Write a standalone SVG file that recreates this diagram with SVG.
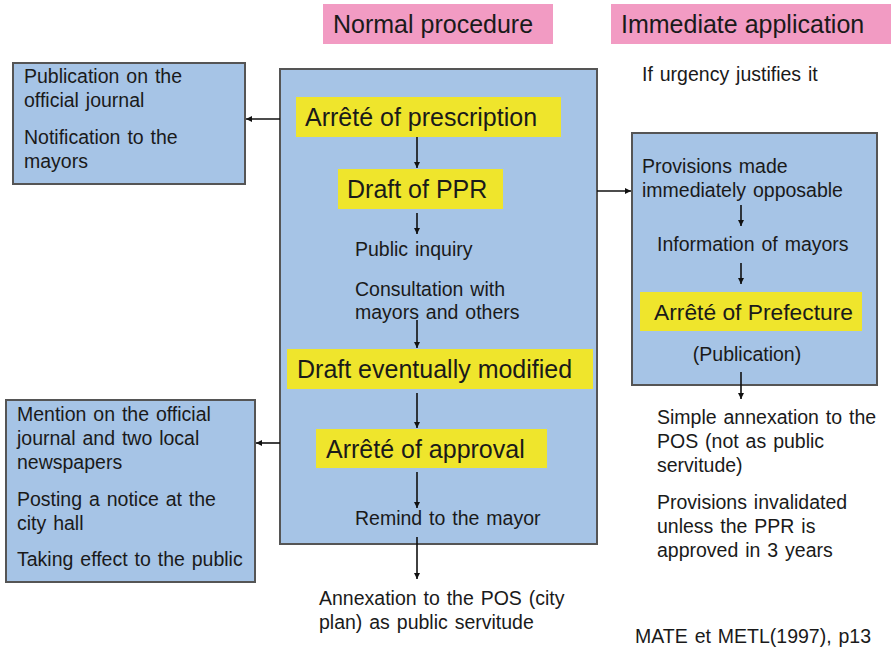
<svg xmlns="http://www.w3.org/2000/svg" width="891" height="647" viewBox="0 0 891 647">
<style>
text{font-family:"Liberation Sans",Arial,sans-serif;fill:#1a1a1a}
.b{font-size:19.5px;word-spacing:1.5px}
.y{font-size:25px}
.y2{font-size:22.8px}
.t{font-size:25px}
.box{fill:#a6c4e6;stroke:#555;stroke-width:2}
.yl{fill:#efe52c}
.pk{fill:#f29bc3}
.c{stroke:#111;stroke-width:1.6;fill:none;marker-end:url(#ah)}
</style>
<defs>
<marker id="ah" viewBox="0 0 10 10" refX="10" refY="5" markerWidth="6" markerHeight="6" orient="auto" markerUnits="userSpaceOnUse">
<path d="M0,0 L10,5 L0,10 Z" fill="#111"/>
</marker>
</defs>
<rect width="891" height="647" fill="#fff"/>
<g id="title-normal"><rect class="pk" x="323" y="4" width="230" height="40"/><text class="t" x="333" y="33">Normal procedure</text></g>
<g id="title-immediate"><rect class="pk" x="611" y="4" width="280" height="40"/><text class="t" x="621" y="33">Immediate application</text></g>
<g id="left-top"><rect class="box" x="13" y="63" width="232" height="121"/>
<text class="b" x="24" y="83">Publication on the</text><text class="b" x="24" y="107">official journal</text>
<text class="b" x="24" y="144">Notification to the</text><text class="b" x="24" y="168">mayors</text></g>
<g id="main"><rect class="box" x="280" y="69" width="317" height="475"/></g>
<g id="arrete-prescription"><rect class="yl" x="296" y="97" width="265" height="40"/><text class="y" x="305" y="126">Arrêté of prescription</text></g>
<g id="draft-ppr"><rect class="yl" x="338" y="169" width="165" height="40"/><text class="y" x="347" y="198">Draft of PPR</text></g>
<g id="inquiry"><text class="b" x="355" y="256">Public inquiry</text><text class="b" x="355" y="296">Consultation with</text><text class="b" x="355" y="319">mayors and others</text></g>
<g id="draft-modified"><rect class="yl" x="287" y="349" width="306" height="40"/><text class="y" x="297" y="378">Draft eventually modified</text></g>
<g id="arrete-approval"><rect class="yl" x="316" y="429" width="231" height="39"/><text class="y" x="326" y="458">Arrêté of approval</text></g>
<g id="remind"><text class="b" x="355" y="525">Remind to the mayor</text></g>
<g id="annexation"><text class="b" x="319" y="605">Annexation to the POS (city</text><text class="b" x="319" y="629">plan) as public servitude</text></g>
<g id="left-bottom"><rect class="box" x="6" y="400" width="249" height="182"/>
<text class="b" x="17" y="421">Mention on the official</text><text class="b" x="17" y="445">journal and two local</text><text class="b" x="17" y="469">newspapers</text>
<text class="b" x="17" y="506">Posting a notice at the</text><text class="b" x="17" y="530">city hall</text>
<text class="b" x="17" y="566">Taking effect to the public</text></g>
<g id="urgency"><text class="b" x="642" y="81">If urgency justifies it</text></g>
<g id="right"><rect class="box" x="632" y="133" width="245" height="252"/>
<text class="b" x="642" y="173">Provisions made</text><text class="b" x="642" y="197">immediately opposable</text>
<text class="b" x="657" y="251">Information of mayors</text>
<rect class="yl" x="640" y="292" width="222" height="39"/><text class="y2" x="654" y="320">Arrêté of Prefecture</text>
<text class="b" x="747" y="361" text-anchor="middle">(Publication)</text></g>
<g id="simple"><text class="b" x="657" y="424">Simple annexation to the</text><text class="b" x="657" y="448">POS (not as public</text><text class="b" x="657" y="472">servitude)</text>
<text class="b" x="657" y="509">Provisions invalidated</text><text class="b" x="657" y="533">unless the PPR is</text><text class="b" x="657" y="557">approved in 3 years</text></g>
<g id="source"><text class="b" x="635" y="643">MATE et METL(1997), p13</text></g>
<g id="connectors">
<path class="c" d="M280,119 H246"/>
<path class="c" d="M280,443 H256"/>
<path class="c" d="M597,191 H631"/>
<path class="c" d="M417,137 V168"/>
<path class="c" d="M417,213 V234"/>
<path class="c" d="M417,320 V348"/>
<path class="c" d="M417,393 V428"/>
<path class="c" d="M417,472 V508"/>
<path class="c" d="M417,537 V579"/>
<path class="c" d="M741,205 V226"/>
<path class="c" d="M741,263 V284"/>
<path class="c" d="M741,372 V399"/>
</g>
</svg>
